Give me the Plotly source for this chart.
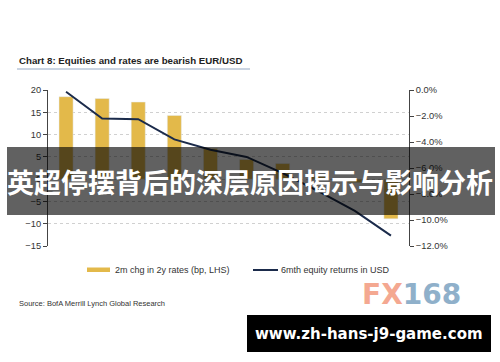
import plotly.graph_objects as go

# ---- data ----
categories = list(range(10))
rates_chg_bp = [18.5, 18.1, 17.3, 14.3, 6.9, 4.4, 3.5, 0.6, -0.8, -8.9]
equity_ret = [-0.0013, -0.022, -0.0225, -0.038, -0.046, -0.0515, -0.064, -0.078, -0.093, -0.112]
left_ticks = [-15, -10, -5, 0, 5, 10, 15, 20]
right_ticks = [-0.12, -0.10, -0.08, -0.06, -0.04, -0.02, 0.0]

W, H = 500, 362
L, R, T, B = 48, 91, 90, 116
pw, ph = W - L - R, H - T - B

def px(x):
    return (x - L) / pw

def py(y):
    return (H - B - y) / ph

GOLD = "#E3B94A"
NAVY = "#1B2B4B"

fig = go.Figure()
fig.add_trace(go.Bar(x=categories, y=rates_chg_bp, marker_color=GOLD, width=0.39,
                     showlegend=False, yaxis="y"))
fig.add_trace(go.Scatter(x=categories, y=equity_ret, mode="lines",
                         line=dict(color=NAVY, width=2), showlegend=False, yaxis="y2"))

tickfont = dict(family="Liberation Sans, Arial", size=9.3, color="#333333")
fig.update_layout(
    width=W, height=H, margin=dict(l=L, r=R, t=T, b=B),
    paper_bgcolor="white", plot_bgcolor="white",
    xaxis=dict(range=[-0.5, 9.5], showticklabels=False, showgrid=False,
               zeroline=False, showline=False, ticks=""),
    yaxis=dict(range=[-15, 20], tickvals=left_ticks, showline=True, linecolor="#444444",
               linewidth=1, ticks="outside", ticklen=4, tickcolor="#444444",
               showgrid=True, gridcolor="#D0D0D0", griddash="dot", gridwidth=1,
               zeroline=False, tickfont=tickfont),
    yaxis2=dict(range=[-0.12, 0], tickvals=right_ticks, tickformat=".1%", overlaying="y",
                side="right", showline=True, linecolor="#444444", linewidth=1,
                ticks="outside", ticklen=4, tickcolor="#444444", showgrid=False,
                zeroline=False, tickfont=tickfont),
    bargap=0.6,
)

shapes = []
ann = []
# title and underline
ann.append(dict(x=px(17), y=py(60), xref="paper", yref="paper", xanchor="left", yanchor="middle",
                text="<b>Chart 8: Equities and rates are bearish EUR/USD</b>", showarrow=False,
                font=dict(family="Liberation Sans, Arial", size=9.7, color="#222222")))
shapes.append(dict(type="line", xref="paper", yref="paper", x0=px(17), x1=px(250),
                   y0=py(69), y1=py(69), line=dict(color="#B9C6D8", width=1.5)))
# legend
shapes.append(dict(type="rect", xref="paper", yref="paper", x0=px(87), x1=px(110),
                   y0=py(267.5), y1=py(272), fillcolor=GOLD, line=dict(width=0)))
ann.append(dict(x=px(113), y=py(270), xref="paper", yref="paper", xanchor="left", yanchor="middle",
                text="2m chg in 2y rates (bp, LHS)", showarrow=False,
                font=dict(family="Liberation Sans, Arial", size=9, color="#333333")))
shapes.append(dict(type="line", xref="paper", yref="paper", x0=px(253), x1=px(278),
                   y0=py(270), y1=py(270), line=dict(color=NAVY, width=2)))
ann.append(dict(x=px(279), y=py(270), xref="paper", yref="paper", xanchor="left", yanchor="middle",
                text="6mth equity returns in USD", showarrow=False,
                font=dict(family="Liberation Sans, Arial", size=9, color="#333333")))
# source
ann.append(dict(x=px(17), y=py(303), xref="paper", yref="paper", xanchor="left", yanchor="middle",
                text="Source: BofA Merrill Lynch Global Research", showarrow=False,
                font=dict(family="Liberation Sans, Arial", size=7.5, color="#333333")))
# FX168 watermark
ann.append(dict(x=px(412), y=py(294), xref="paper", yref="paper", xanchor="center", yanchor="middle",
                text="<span style='color:#F4A891'>FX</span><span style='color:#8FB0CA'>168</span>",
                showarrow=False,
                font=dict(family="DejaVu Sans", size=28, weight="bold")))
# banner
shapes.append(dict(type="rect", xref="paper", yref="paper", x0=px(7), x1=px(495),
                   y0=py(215), y1=py(147), fillcolor="rgba(0,0,0,0.62)", line=dict(width=0),
                   layer="above"))
ann.append(dict(x=px(250), y=py(181), xref="paper", yref="paper", xanchor="center", yanchor="middle",
                text="<b>英超停摆背后的深层原因揭示与影响分析</b>", showarrow=False,
                font=dict(family="Noto Sans CJK SC", size=27, color="white")))
# bottom box
shapes.append(dict(type="rect", xref="paper", yref="paper", x0=px(247), x1=px(491),
                   y0=py(352), y1=py(315), fillcolor="black", line=dict(width=0), layer="above"))
ann.append(dict(x=px(369), y=py(333.5), xref="paper", yref="paper", xanchor="center", yanchor="middle",
                text="<b>www.zh-hans-j9-game.com</b>", showarrow=False,
                font=dict(family="DejaVu Sans", size=15, color="white")))

fig.update_layout(shapes=shapes, annotations=ann)
fig.write_html("out.html")
